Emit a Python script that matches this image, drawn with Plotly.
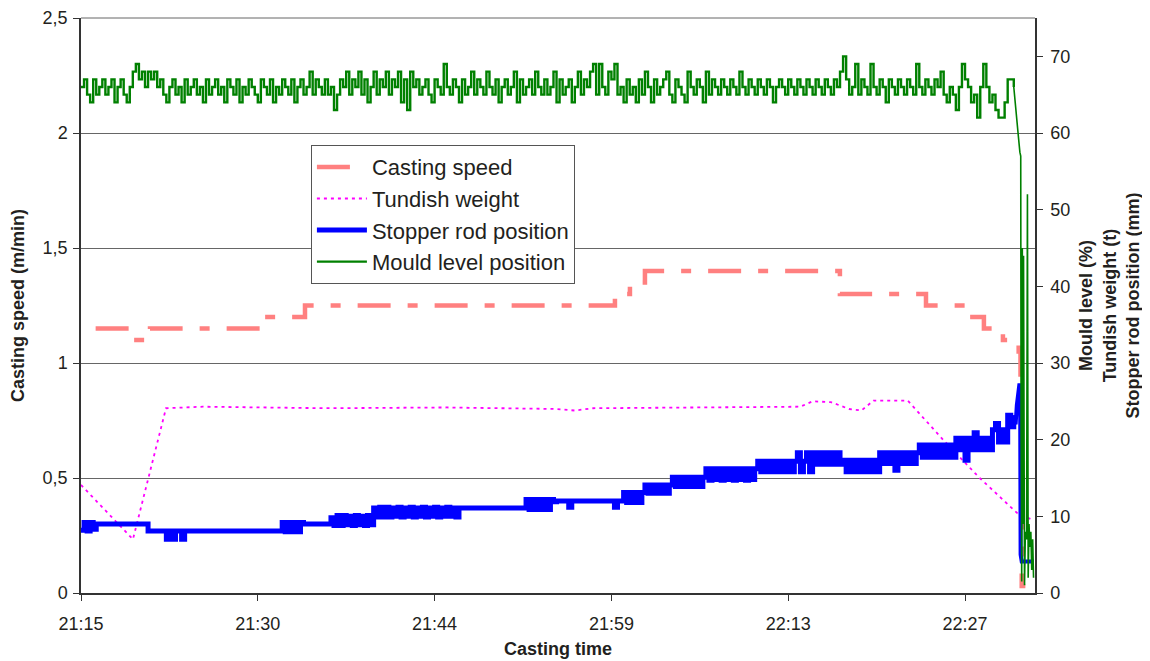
import plotly.graph_objects as go

# ---------------- data ----------------
# time axis: minutes after 21:15
TICK_LABELS = ["21:15", "21:30", "21:44", "21:59", "22:13", "22:27"]
TICK_STEP_MIN = 14.5
X_END_MIN = 78.24

# Casting speed (m/min), step changes (minute, value)
speed_t = [1.2, 4.26, 5.66, 15.09, 18.37, 43.79, 45.02, 46.25, 62.24, 69.3, 72.58, 74.05, 75.61, 76.35,
           76.9, 77.05, 77.15, 77.45]
speed_v = [1.15, 1.10, 1.15, 1.20, 1.25, 1.30, 1.35, 1.40, 1.30, 1.25, 1.20, 1.15, 1.10, 1.10,
           1.05, 0.95, 0.03, 0.03]

# Tundish weight (t)
tundish_t = [0, 4.26, 6.97, 10, 20, 30, 39, 40.5, 42, 55, 59.0, 60.0, 61.5, 63.0, 64.0, 65.0, 67.8, 70.7, 73.7, 76.8, 78.1]
tundish_v = [14.1, 7.0, 24.1, 24.3, 24.1, 24.2, 24.0, 23.8, 24.1, 24.2, 24.3, 25.0, 24.9, 24.0, 23.8, 25.1, 25.1, 20.0, 15.0, 10.4, 9.5]

# sampled signals, one sample every 0.25 min from 21:15
SAMPLE_MIN = 0.25
stopper_v = [
    8.2, 9.2, 8.1, 9.2, 8.3, 9, 9, 9, 9, 9,
    9, 9, 9, 9, 9, 9, 9, 9, 9, 9,
    9, 9, 8.1, 8.1, 8.1, 8.1, 8.1, 8.1, 7, 8.1,
    7, 8.1, 8.1, 7, 8.1, 8.1, 8.1, 8.1, 8.1, 8.1,
    8.1, 8.1, 8.1, 8.1, 8.1, 8.1, 8.1, 8.1, 8.1, 8.1,
    8.1, 8.1, 8.1, 8.1, 8.1, 8.1, 8.1, 8.1, 8.1, 8.1,
    8.1, 8.1, 8.1, 8.1, 8.1, 8.1, 9.2, 8.0, 9.2, 8.0,
    9.2, 8.0, 9.2, 9, 9, 9, 9, 9, 9, 9,
    9, 9, 9.8, 8.8, 10.1, 8.8, 10.1, 8.9, 10.0, 8.8,
    10.1, 8.9, 10.0, 8.8, 10.1, 8.9, 11.1, 9.9, 11.2, 9.9,
    11.2, 9.9, 11.1, 10.0, 11.2, 9.9, 11.1, 10.0, 11.2, 9.9,
    11.1, 10.0, 11.2, 9.9, 11.1, 10.0, 11.2, 9.9, 11.1, 10.0,
    11.2, 10.0, 11.1, 9.9, 11.1, 11.1, 11.1, 11.1, 11.1, 11.1,
    11.1, 11.1, 11.1, 11.1, 11.1, 11.1, 11.1, 11.1, 11.1, 11.1,
    11.1, 11.1, 11.1, 11.1, 11.1, 11.1, 12.2, 10.9, 12.2, 10.9,
    12.2, 10.9, 12.2, 10.9, 12.2, 11.9, 12, 12, 12, 12,
    11.2, 12, 12, 12, 12, 12, 12, 12, 12, 12,
    12, 12, 12, 12, 12, 11.2, 12, 12, 13.1, 11.8,
    13.1, 11.8, 13.1, 11.8, 13.1, 14.1, 13.0, 14.1, 13.0, 14.1,
    13.0, 14.1, 13.0, 14.1, 15.1, 13.9, 15.1, 13.9, 15.1, 13.9,
    15.1, 13.9, 15.1, 13.9, 15.1, 16.2, 14.7, 16.2, 14.8, 16.2,
    14.7, 16.2, 14.8, 16.2, 14.7, 16.2, 14.8, 16.2, 14.7, 16.2,
    14.8, 16.2, 17.2, 15.8, 17.2, 15.8, 17.2, 15.8, 17.2, 15.8,
    17.2, 15.8, 17.2, 15.8, 17.2, 18.3, 15.8, 17.2, 18.3, 15.8,
    18.3, 16.8, 18.3, 16.8, 18.3, 16.8, 18.3, 16.8, 18.3, 16.8,
    17.3, 15.8, 17.3, 15.8, 17.3, 15.8, 17.3, 15.8, 17.3, 15.8,
    17.3, 15.8, 18.3, 16.9, 18.3, 16.9, 18.3, 16.0, 18.3, 16.9,
    18.3, 16.9, 18.3, 16.9, 18.3, 19.3, 17.7, 19.3, 17.7, 19.3,
    17.7, 19.3, 17.7, 19.3, 17.7, 19.3, 17.7, 20.2, 18.7, 20.2,
    17.3, 20.2, 18.7, 20.9, 18.7, 20.2, 18.7, 20.2, 18.7, 21.3,
    22.1, 19.7, 21.3, 19.7, 23.2, 21.7, 23.2,
]
stopper_tail_t = [76.5, 76.65, 76.75, 76.85, 76.95, 77.02, 77.06, 77.15, 78.15]
stopper_tail_v = [23.2, 22.0, 24.5, 26.0, 27.1, 27.1, 5.0, 4.1, 4.1]

mould_v = [
    66, 67, 65, 64, 67, 65, 66, 67, 65, 66,
    67, 64, 66, 67, 65, 64, 66, 68, 69, 67,
    68, 66, 68, 67, 68, 66, 67, 65, 64, 66,
    67, 65, 66, 64, 67, 65, 66, 67, 65, 66,
    64, 67, 65, 66, 67, 65, 66, 64, 67, 66,
    65, 67, 64, 66, 65, 67, 66, 65, 64, 67,
    66, 65, 67, 64, 66, 65, 67, 66, 65, 67,
    64, 66, 67, 65, 66, 68, 65, 67, 66, 65,
    67, 65, 66, 63, 65, 67, 66, 68, 65, 67,
    66, 68, 65, 67, 64, 66, 68, 65, 67, 66,
    68, 65, 67, 66, 68, 64, 67, 63, 68, 66,
    67, 65, 66, 67, 65, 64, 67, 66, 65, 69,
    66, 65, 67, 66, 64, 67, 65, 66, 68, 65,
    67, 66, 65, 68, 66, 65, 67, 64, 66, 67,
    65, 66, 68, 64, 67, 65, 66, 67, 65, 68,
    66, 65, 67, 65, 66, 68, 64, 67, 65, 66,
    67, 64, 66, 68, 65, 67, 66, 68, 69, 65,
    69, 66, 65, 68, 67, 69, 65, 66, 64, 67,
    65, 66, 64, 67, 65, 68, 66, 64, 67, 65,
    66, 67, 68, 65, 64, 67, 66, 65, 64, 68,
    66, 65, 67, 66, 64, 68, 65, 67, 66, 65,
    67, 66, 65, 67, 66, 65, 68, 66, 65, 67,
    66, 65, 67, 66, 65, 67, 66, 64, 66, 67,
    66, 65, 67, 66, 65, 67, 66, 65, 67, 66,
    65, 67, 66, 65, 67, 66, 65, 67, 66, 68,
    70, 67, 65, 66, 69, 65, 67, 66, 65, 69,
    66, 65, 67, 66, 64, 67, 66, 65, 67, 66,
    65, 67, 66, 65, 69, 66, 65, 67, 66, 65,
    67, 66, 68, 65, 64, 66, 65, 63, 66, 69,
    67, 66, 64, 65, 62, 66, 69, 66, 64, 65,
    63, 62, 62, 64, 67, 67, 66,
]
mould_tail_t = [76.5, 76.7, 76.85, 77.0, 77.07, 77.1, 77.15, 77.2, 77.25, 77.3, 77.38, 77.45, 77.55,
                77.62, 77.68, 77.75, 77.82, 77.9, 77.97, 78.05, 78.12]
mould_tail_v = [66, 63, 60, 57.5, 57, 20, 1.5, 45, 9, 44, 1.0, 8, 7, 52, 2, 9, 6, 8, 3, 7, 2]

# ---------------- figure ----------------
stopper_t = [i * SAMPLE_MIN for i in range(len(stopper_v))]
mould_t = [i * SAMPLE_MIN for i in range(len(mould_v))]

SALMON = "#FF8080"
MAGENTA = "#FF00FF"
BLUE = "#0000FF"
GREEN = "#008000"

fig = go.Figure()
fig.add_trace(go.Scatter(x=speed_t, y=speed_v, mode="lines", name="Casting speed",
                         line=dict(color=SALMON, width=4.5, shape="hv", dash="33px,17px,10px,17px")))
fig.add_trace(go.Scatter(x=tundish_t, y=tundish_v, mode="lines", name="Tundish weight", yaxis="y2",
                         line=dict(color=MAGENTA, width=1.8, dash="3px,4px")))
fig.add_trace(go.Scatter(x=stopper_t, y=stopper_v, mode="lines", name="Stopper rod position", yaxis="y2",
                         line=dict(color=BLUE, width=5, shape="hv")))
fig.add_trace(go.Scatter(x=stopper_tail_t, y=stopper_tail_v, mode="lines", yaxis="y2", showlegend=False,
                         line=dict(color=BLUE, width=4)))
fig.add_trace(go.Scatter(x=mould_t, y=mould_v, mode="lines", name="Mould level position", yaxis="y2",
                         line=dict(color=GREEN, width=2.4, shape="hv")))
fig.add_trace(go.Scatter(x=mould_tail_t, y=mould_tail_v, mode="lines", yaxis="y2", showlegend=False,
                         line=dict(color=GREEN, width=1.6)))

FONT = "Liberation Sans, Arial, sans-serif"
TXT = "#231f20"
AX = "#333333"

fig.update_layout(
    width=1142, height=653,
    margin=dict(l=73, r=115, t=10, b=68, autoexpand=False),
    paper_bgcolor="white", plot_bgcolor="white",
    separators=", ",
    font=dict(family=FONT, size=18, color=TXT),
    showlegend=True,
    legend=dict(x=0.241, y=0.779, xanchor="left", yanchor="top",
                bgcolor="white", bordercolor="#555555", borderwidth=1,
                font=dict(size=22, color=TXT), itemwidth=50, tracegroupgap=0),
    xaxis=dict(range=[0, X_END_MIN], tickmode="array", automargin=False,
               tickvals=[i * TICK_STEP_MIN for i in range(len(TICK_LABELS))], ticktext=TICK_LABELS,
               ticks="outside", ticklen=6, tickcolor=AX, showline=True, linecolor=AX, linewidth=1.5,
               ticklabelstandoff=8,
               mirror=False, showgrid=False, zeroline=False,
               title=dict(text="<b>Casting time</b>", font=dict(size=18), standoff=9)),
    yaxis=dict(range=[0, 2.5], dtick=0.5, ticks="outside", ticklen=6, tickcolor=AX, automargin=False,
               showline=True, linecolor=AX, linewidth=1.5, showgrid=True, gridcolor="#666666", gridwidth=1,
               zeroline=False, ticklabelstandoff=2,
               title=dict(text="<b>Casting speed (m/min)</b>", font=dict(size=18), standoff=14)),
    yaxis2=dict(range=[0, 75], dtick=10, overlaying="y", side="right", ticks="outside", ticklen=6,
                tickcolor=AX, showline=True, linecolor=AX, linewidth=1.5, showgrid=False, zeroline=False,
                ticklabelstandoff=4, automargin=False),
    yaxis3=dict(range=[0, 75], dtick=10, overlaying="y", side="right", anchor="x", ticks="inside", ticklen=6,
                tickcolor=AX, showline=False, showgrid=False, zeroline=False, showticklabels=False,
                automargin=False),
    annotations=[dict(text="<b>Mould level (%)<br>Tundish weight (t)<br>Stopper rod position (mm)</b>",
                      xref="paper", yref="paper", x=1.0786, y=0.5, xanchor="center", yanchor="middle",
                      textangle=-90, showarrow=False, font=dict(size=18, color=TXT), align="center")],
)
fig.add_shape(type="line", xref="paper", yref="paper", x0=0, x1=1, y0=1, y1=1,
              line=dict(color="#666666", width=1))

fig.write_html("out.html")
